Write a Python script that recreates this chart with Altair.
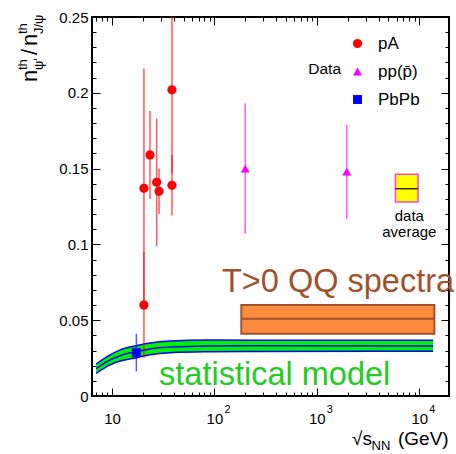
import altair as alt
import pandas as pd

# ---------------- data ----------------
systems = ["pA", "pp(p\u0304)", "PbPb"]

pa_x = [20.5, 20.5, 23.5, 27.3, 28.8, 38.5, 38.5]
pa_y = [0.137, 0.060, 0.159, 0.141, 0.135, 0.202, 0.139]
pa_err = [0.079, 0.035, 0.029, 0.042, 0.015, 0.055, 0.020]

pp_x = [200.0, 1960.0]
pp_y = [0.150, 0.148]
pp_err = [0.043, 0.031]

pbpb_x = [17.3]
pbpb_y = [0.0286]
pbpb_err = [0.0124]

# statistical model band
band_x = [7.0, 9.6, 12.0, 17.3, 23.5, 37.0, 87.0, 223.0, 13650.0]
band_mid = [0.0181, 0.0238, 0.0266, 0.0292, 0.0310, 0.0323, 0.0330, 0.0331, 0.0330]
band_lo = [0.0150, 0.0205, 0.0231, 0.0253, 0.0272, 0.0286, 0.0292, 0.0294, 0.0295]
band_hi = [0.0211, 0.0271, 0.0304, 0.0332, 0.0350, 0.0363, 0.0369, 0.0368, 0.0367]

# T>0 QQ spectra box (x range, y low / mid / high)
qq_x = [183.0, 14030.0]
qq_y = [0.041, 0.051, 0.060]

# data average box
avg_x = [5850.0, 9730.0]
avg_y = [0.128, 0.1367, 0.1462]

# axis ticks
x_major = [10, 100, 1000, 10000]
x_minor = [7, 8, 9, 20, 30, 40, 50, 60, 70, 80, 90,
           200, 300, 400, 500, 600, 700, 800, 900,
           2000, 3000, 4000, 5000, 6000, 7000, 8000, 9000]
x_exp_ticks = [100, 1000, 10000]
x_exp_labels = ["2", "3", "4"]
y_major = [0, 0.05, 0.1, 0.15, 0.2, 0.25]
y_minor = [0.01, 0.02, 0.03, 0.04, 0.06, 0.07, 0.08, 0.09,
           0.11, 0.12, 0.13, 0.14, 0.16, 0.17, 0.18, 0.19,
           0.21, 0.22, 0.23, 0.24]

# ---------------- tables ----------------
FONT = "Liberation Sans"
W, H = 357, 379
PL, PT = 92, 17

rows = []
for sys_name, xs_, ys_, es_ in [(systems[0], pa_x, pa_y, pa_err),
                                (systems[1], pp_x, pp_y, pp_err),
                                (systems[2], pbpb_x, pbpb_y, pbpb_err)]:
    for x, y, e in zip(xs_, ys_, es_):
        rows.append({"x": x, "y": y, "lo": y - e, "hi": y + e, "sys": sys_name})
pts = pd.DataFrame(rows)

band = pd.DataFrame({"x": band_x, "mid": band_mid, "lo": band_lo, "hi": band_hi})
band_long = band.melt(id_vars="x", value_vars=["lo", "mid", "hi"], var_name="k", value_name="v")

qq = pd.DataFrame({"x1": [qq_x[0]], "x2": [qq_x[1]], "y1": [qq_y[0]], "ym": [qq_y[1]], "y2": [qq_y[2]]})
avg = pd.DataFrame({"x1": [avg_x[0]], "x2": [avg_x[1]], "y1": [avg_y[0]], "ym": [avg_y[1]], "y2": [avg_y[2]]})
exps = pd.DataFrame({"x": x_exp_ticks, "t": x_exp_labels})

xs = alt.Scale(type="log", domain=[6.38, 19500], nice=False)
ys = alt.Scale(domain=[0, 0.25], nice=False, zero=False)


def ax(orient, values, size, labels=False, **kw):
    return alt.Axis(orient=orient, values=values, tickSize=size, offset=-size,
                    domain=False, grid=False, labels=labels, title=None,
                    tickColor="black", tickWidth=1, **kw)


ax_bottom_major = ax("bottom", x_major, 8, labels=True, labelExpr="'10'",
                     labelFont=FONT, labelFontSize=15, labelColor="black",
                     labelPadding=15, labelFlush=False, labelOverlap=False)
ax_bottom_minor = ax("bottom", x_minor, 4)
ax_top_major = ax("top", x_major, 8)
ax_top_minor = ax("top", x_minor, 4)
ax_left_major = ax("left", y_major, 8, labels=True, format="~g",
                   labelFont=FONT, labelFontSize=15, labelColor="black",
                   labelPadding=4, labelFlush=False, labelOverlap=False)
ax_left_minor = ax("left", y_minor, 4)
ax_right_major = ax("right", y_major, 8)
ax_right_minor = ax("right", y_minor, 4)

# ---------------- layers ----------------
band_area = alt.Chart(band).mark_area(color="#00f000", interpolate="monotone").encode(
    x=alt.X("x:Q", scale=xs, axis=ax_bottom_major),
    y=alt.Y("lo:Q", scale=ys, axis=ax_left_major),
    y2="hi:Q",
)
band_lines = alt.Chart(band_long).mark_line(color="#0000ff", strokeWidth=1.5,
                                            interpolate="monotone").encode(
    x=alt.X("x:Q", scale=xs, axis=ax_bottom_minor),
    y=alt.Y("v:Q", scale=ys, axis=ax_left_minor),
    detail="k:N",
)
qq_box = alt.Chart(qq).mark_rect(fill="#ff8c3c", stroke="#a0522d", strokeWidth=2).encode(
    x=alt.X("x1:Q", scale=xs, axis=ax_top_major), x2="x2:Q",
    y=alt.Y("y1:Q", scale=ys, axis=ax_right_major), y2="y2:Q",
)
qq_mid = alt.Chart(qq).mark_rule(color="#a0522d", strokeWidth=2).encode(
    x=alt.X("x1:Q", scale=xs, axis=ax_top_minor), x2="x2:Q",
    y=alt.Y("ym:Q", scale=ys, axis=ax_right_minor),
)
avg_box = alt.Chart(avg).mark_rect(fill="#ffff00", stroke="#ff44cc", strokeWidth=1.5).encode(
    x=alt.X("x1:Q", scale=xs, axis=None), x2="x2:Q",
    y=alt.Y("y1:Q", scale=ys, axis=None), y2="y2:Q",
)
avg_mid = alt.Chart(avg).mark_rule(color="black", strokeWidth=1.2).encode(
    x=alt.X("x1:Q", scale=xs, axis=None), x2="x2:Q",
    y=alt.Y("ym:Q", scale=ys, axis=None),
)

bar_colors = ["#ff0000", "#ff00ff", "#0000ff"]
err_layers = []
for s, c in zip(systems, bar_colors):
    err_layers.append(
        alt.Chart(pts).transform_filter(alt.datum.sys == s)
        .mark_rule(color=c, strokeWidth=1.5, opacity=0.65, clip=True)
        .encode(x=alt.X("x:Q", scale=xs, axis=None),
                y=alt.Y("lo:Q", scale=ys, axis=None), y2="hi:Q")
    )

legend = alt.Legend(orient="none", legendX=257, legendY=18, title=None,
                    labelFont=FONT, labelFontSize=17, labelColor="black",
                    symbolSize=80, symbolStrokeWidth=0, rowPadding=10,
                    labelOffset=12, padding=0)
points = alt.Chart(pts).mark_point(filled=True, opacity=1).encode(
    x=alt.X("x:Q", scale=xs, axis=None),
    y=alt.Y("y:Q", scale=ys, axis=None),
    color=alt.Color("sys:N", scale=alt.Scale(domain=systems, range=bar_colors), legend=legend),
    shape=alt.Shape("sys:N", scale=alt.Scale(domain=systems,
                                             range=["circle", "triangle-up", "square"]),
                    legend=legend),
    size=alt.Size("sys:N", scale=alt.Scale(domain=systems, range=[85, 80, 50]), legend=None),
)


def dtext(text, x, y, size, color, align="left", baseline="alphabetic", **kw):
    return alt.Chart(pd.DataFrame({"x": [x], "y": [y]})).mark_text(
        text=text, font=FONT, fontSize=size, color=color, align=align, baseline=baseline, **kw
    ).encode(x=alt.X("x:Q", scale=xs, axis=None), y=alt.Y("y:Q", scale=ys, axis=None))


def ptext(text, px, py, size, angle=0, align="left", baseline="alphabetic"):
    kw = {"angle": angle} if angle else {}
    return alt.Chart(pd.DataFrame({"a": [0]})).mark_text(
        text=text, font=FONT, fontSize=size, color="black", align=align, baseline=baseline, **kw
    ).encode(x=alt.value(px - PL), y=alt.value(py - PT))


annotations = [
    dtext("T>0 QQ  spectra", 118.6, 0.0686, 32.5, "#a0522d"),
    dtext("statistical model", 28.8, 0.0073, 32.5, "#22cc22"),
    dtext("data", 8000, 0.1155, 15, "black", align="center"),
    dtext("average", 8000, 0.1050, 15, "black", align="center"),
    dtext("Data", 1722, 0.2155, 15.5, "black", align="right", baseline="middle"),
]

exps_layer = alt.Chart(exps).mark_text(font=FONT, fontSize=11, color="black", align="left",
                                       baseline="alphabetic", dx=10).encode(
    x=alt.X("x:Q", scale=xs, axis=None), y=alt.value(413 - PT), text="t:N")

# axis titles built from pieces (sub/superscripts)
titles = [
    # x title: sqrt(s_NN) (GeV)
    ptext("\u221as", 352, 445, 19),
    ptext("NN", 371.5, 450, 13),
    ptext("(GeV)", 398, 445, 19),
    # y title: n^th_psi' / n^th_J/psi (rotated)
    ptext("n", 37, 82, 22, angle=270),
    ptext("th", 27, 70, 13, angle=270),
    ptext("\u03c8'", 43, 70, 13, angle=270),
    ptext("/", 37, 55, 22, angle=270),
    ptext("n", 37, 46, 22, angle=270),
    ptext("th", 27, 34, 13, angle=270),
    ptext("J/\u03c8", 43, 34, 13, angle=270),
]

chart = alt.layer(
    band_area, band_lines, qq_box, qq_mid, avg_box, avg_mid,
    *err_layers, points, *annotations, exps_layer, *titles,
).resolve_axis(x="independent", y="independent").properties(
    width=W, height=H,
    autosize=alt.AutoSizeParams(type="none"),
    padding={"left": PL, "top": PT, "right": 456 - PL - W, "bottom": 454 - PT - H},
    background="white",
).configure_view(stroke="black", strokeWidth=2)

chart.save("out.html", embed_options={"renderer": "svg", "actions": False})
